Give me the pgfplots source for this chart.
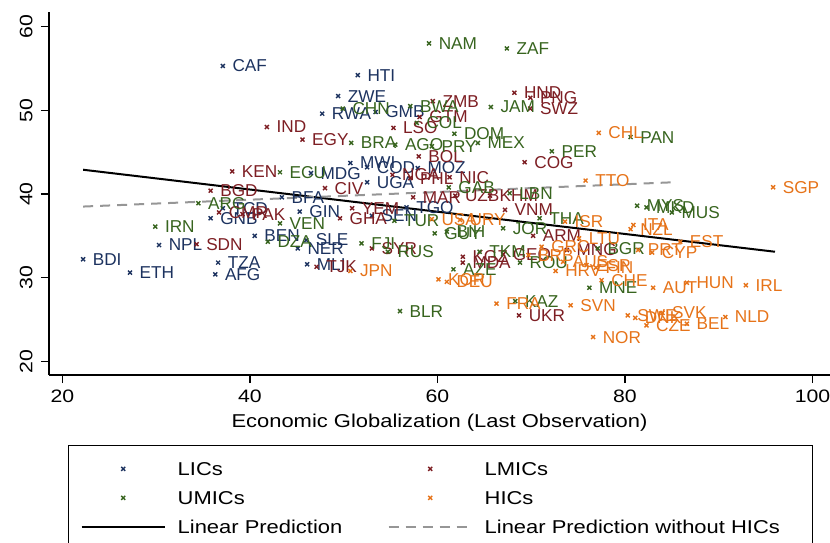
\documentclass[border=0pt]{standalone}
\usepackage{fontspec}
\setmainfont{Liberation Sans}[FakeStretch=1.18]
\newfontfamily\cfont{Liberation Sans}
\usepackage{pgfplots}
\pgfplotsset{compat=1.18}
\usepackage{pgfplotstable}

\definecolor{licc}{RGB}{28,50,95}
\definecolor{lmicc}{RGB}{125,30,35}
\definecolor{umicc}{RGB}{55,100,30}
\definecolor{hicc}{RGB}{230,115,25}
\definecolor{grayline}{RGB}{150,150,150}

\pgfplotstableread{
x y label
37.1 55.3 CAF
51.5 54.2 HTI
49.4 51.7 ZWE
47.7 49.6 RWA
53.4 49.8 GMB
50.7 43.7 MWI
52.5 43.2 COD
52.5 41.4 UGA
57.9 43.1 MOZ
43.4 39.6 BFA
46.5 42.5 MDG
35.8 37.1 GNB
37.1 38.3 TCD
40.5 35.0 BEN
30.3 33.9 NPL
22.2 32.2 BDI
27.2 30.6 ETH
36.6 31.8 TZA
36.3 30.4 AFG
45.3 37.9 GIN
46.0 34.5 SLE
45.1 33.5 NER
46.1 31.6 MLI
56.7 38.4 TGO
53.0 37.4 SEN
}\lic

\pgfplotstableread{
x y label
41.8 48.0 IND
45.6 46.5 EGY
38.1 42.7 KEN
35.8 40.4 BGD
55.3 47.9 LSO
59.5 51.1 ZMB
58.1 49.2 GTM
58.0 44.5 BOL
68.2 52.1 HND
69.9 51.5 PNG
69.9 50.2 SWZ
69.3 43.8 COG
48.0 40.7 CIV
55.2 42.3 NGA
57.1 41.9 PHL
61.3 42.0 NIC
57.4 39.6 MAR
61.9 39.8 UZB
65.6 39.8 KHM
67.2 38.1 VNM
36.7 37.8 CMR
39.2 37.6 PAK
34.3 34.0 SDN
49.6 37.1 GHA
50.9 38.3 YEM
47.1 31.3 TJK
62.7 32.5 KGZ
62.7 31.8 MDA
70.2 35.0 ARM
73.8 33.3 MNG
68.7 25.5 UKR
53.0 33.5 SYR
67.0 32.8 GEO
}\lmic

\pgfplotstableread{
x y label
59.1 58.0 NAM
67.4 57.4 ZAF
65.7 50.4 JAM
49.9 50.2 CHN
57.1 50.5 BWA
57.8 48.5 COL
50.8 46.1 BRA
55.5 45.9 AGO
59.4 45.7 PRY
61.8 47.2 DOM
64.3 46.1 MEX
72.2 45.1 PER
43.2 42.6 ECU
61.2 40.8 GAB
67.7 40.1 LBN
70.9 37.1 THA
34.5 38.9 ARG
29.9 36.1 IRN
43.2 36.5 VEN
41.9 34.3 DZA
55.4 36.8 TUR
59.7 35.3 GUY
61.0 35.5 BIH
51.9 34.1 FJI
54.7 33.1 RUS
61.7 31.0 AZE
56.0 26.0 BLR
68.3 27.2 KAZ
76.2 28.8 MNE
77.1 33.5 BGR
81.3 38.6 MYS
82.3 38.4 MKD
85.0 37.8 MUS
80.6 46.8 PAN
68.8 31.8 ROU
64.5 33.1 TKM
67.0 35.9 JOR
}\umic

\pgfplotstableread{
x y label
77.2 47.3 CHL
75.8 41.6 TTO
95.8 40.8 SGP
73.6 36.7 ISR
80.9 36.3 ITA
80.6 35.8 NZL
85.9 34.3 EST
82.9 33.0 CYP
81.4 33.3 PRT
86.6 29.4 HUN
92.9 29.1 IRL
83.0 28.8 AUT
77.5 29.7 CHE
72.6 30.8 HRV
74.2 26.7 SVN
76.6 22.9 NOR
90.7 25.3 NLD
80.3 25.5 SWE
84.0 25.8 SVK
81.1 25.2 DNK
82.3 24.3 CZE
86.6 24.5 BEL
66.3 26.9 FRA
60.1 29.8 KOR
61.0 29.5 DEU
50.7 30.8 JPN
59.4 37.0 USA
62.4 36.9 URY
75.1 34.7 LTU
73.4 31.9 AUS
75.9 31.5 ESP
76.9 31.2 FIN
71.1 33.7 GRC
69.7 32.7 BRB
}\hic

\pgfplotsset{
  cstyle/.style={only marks, mark=x, mark size=1.4pt, color=#1,
    mark options={line width=0.7pt},
    nodes near coords, point meta=explicit symbolic,
    every node near coord/.append style={anchor=west, inner sep=0pt, xshift=4.5pt,
      font=\cfont\fontsize{8.6}{10}\selectfont, text=#1}},
}

\begin{document}
\begin{tikzpicture}
\begin{axis}[
  scale only axis, width=390.5pt, height=181.5pt,
  xmin=18.56, xmax=101.87, ymin=18.37, ymax=61.75,
  axis lines*=left, axis line style={-, line width=0.75pt, black},
  tick align=outside, major tick length=4pt, tick style={line width=0.6pt, black},
  xtick={20,40,60,80,100}, ytick={20,30,40,50,60},
  /pgf/number format/assume math mode=true,
  tick label style={font=\fontsize{9}{10}\selectfont, inner sep=0pt},
  xticklabel style={anchor=north, yshift=-3.5pt},
  yticklabel style={xshift=-4pt, rotate=90, anchor=south},
  xlabel={Economic Globalization (Last Observation)},
  xlabel style={at={(axis description cs:0.5,0)}, anchor=base, yshift=-26pt,
    font=\fontsize{9.3}{11}\selectfont, inner sep=0pt},
  clip=false,
  legend columns=2,
  legend style={at={(axis description cs:0,0)}, anchor=north west,
    xshift=9.5pt, yshift=-35pt,
    draw=black, line width=0.7pt, inner xsep=6pt, inner ysep=4.33pt,
    column sep=0pt, row sep=0pt,
    font=\fontsize{9.3}{11}\selectfont,
    nodes={inner sep=0pt, anchor=west, text height=10.58pt, text depth=3.92pt}},
  legend image code/.code={
    \draw[mark repeat=2,mark phase=2,#1] plot coordinates {(0pt,0pt) (20.75pt,0pt) (41.5pt,0pt)};
    \path (0pt,-2pt) (47.5pt,2pt);},
]
\addplot[cstyle=licc] table[meta=label]{\lic};
\addlegendentry{\makebox[105pt][l]{LICs}}
\addplot[cstyle=lmicc] table[meta=label]{\lmic};
\addlegendentry{\makebox[158pt][l]{LMICs}}
\addplot[cstyle=umicc] table[meta=label]{\umic};
\addlegendentry{\makebox[105pt][l]{UMICs}}
\addplot[cstyle=hicc] table[meta=label]{\hic};
\addlegendentry{\makebox[158pt][l]{HICs}}
\addplot[black, line width=1pt] coordinates {(22.2,42.9) (96.0,33.1)};
\addlegendentry{\makebox[105pt][l]{Linear Prediction}}
\addplot[grayline, line width=1pt, dash pattern=on 5pt off 3.5pt] coordinates {(22.2,38.5) (85.1,41.4)};
\addlegendentry{\makebox[158pt][l]{Linear Prediction without HICs}}
\end{axis}
\pgfresetboundingbox
\useasboundingbox (-24.5pt,-83.5pt) rectangle (390.5pt,187.5pt);
\end{tikzpicture}
\end{document}
